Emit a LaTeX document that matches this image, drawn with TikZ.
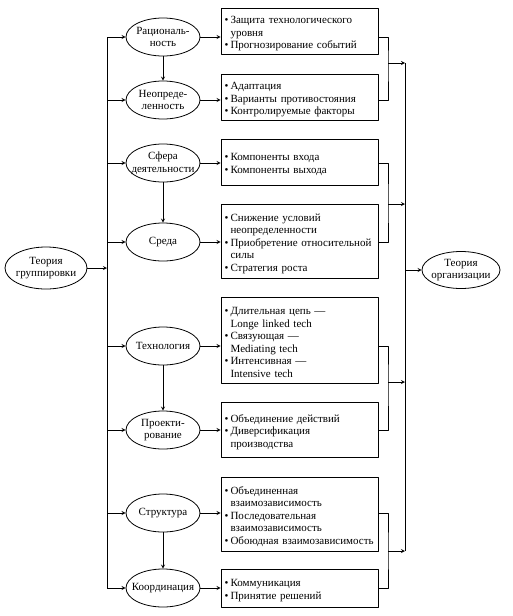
\documentclass[tikz,border=0pt]{standalone}
\usepackage{fontspec}
\setmainfont{Liberation Serif}
\usetikzlibrary{shapes.geometric}
\newcommand\itm{\par\hangindent=0.55em\hangafter=1\noindent\makebox[0.55em][l]{\textbullet}}

\begin{document}
\begin{tikzpicture}[>=stealth,x=1pt,y=-1pt,line width=0.8pt,line join=round,
		font=\fontsize{11}{12.5}\selectfont]
	\tikzset{oval/.style={draw,ellipse,minimum width=74pt,minimum height=38pt,
			inner xsep=-9pt,inner ysep=-4pt,align=center},
		lst/.style={draw,rectangle,text width=150pt,inner xsep=3.5pt,inner ysep=0pt,align=left}}
	\useasboundingbox (0,0) rectangle (512,616);
	
	% --- Theories ---
	\node[oval,minimum width=82pt,minimum height=42pt,inner xsep=-13pt] (grp) at (46,268) {Теория\\группировки};
	\node[oval,minimum width=78pt,minimum height=37pt,inner xsep=-13pt] (org) at (461,270) {Теория\\организации};
	
	% --- Factors ---
	\node[oval] (rat) at (163,37) {Рациональ-\\ность};
	\node[oval] (neo) at (163,100) {Неопреде-\\ленность};
	\node[oval] (sfe) at (163,163) {Сфера\\деятельности};
	\node[oval] (sre) at (163,242) {Среда};
	\node[oval] (tec) at (163,346) {Технология};
	\node[oval] (pro) at (163,430) {Проекти-\\рование};
	\node[oval] (str) at (163,513) {Структура};
	\node[oval] (koo) at (163,588) {Координация};
	
	% --- Lists ---
	\node[lst,minimum height=46pt] (b1) at (299.5,31) {\itm Защита технологического\newline уровня\itm Прогнозирование событий\par};
	\node[lst,minimum height=46pt] (b2) at (299.5,97) {\itm Адаптация\itm Варианты противостояния\itm Контролируемые факторы\par};
	\node[lst,minimum height=46pt] (b3) at (299.5,162) {\itm Компоненты входа\itm Компоненты выхода\par};
	\node[lst,minimum height=74pt] (b4) at (299.5,241) {\itm Снижение условий\newline неопределенности\itm Приобретение относительной\newline силы\itm Стратегия роста\par};
	\node[lst,minimum height=86pt] (b5) at (299.5,340) {\itm Длительная цепь —\newline Longe linked tech\itm Связующая —\newline Mediating tech\itm Интенсивная —\newline Intensive tech\par};
	\node[lst,minimum height=55pt] (b6) at (299.5,429.5) {\itm Объединение действий\itm Диверсификация\newline производства\par};
	\node[lst,minimum height=74pt] (b7) at (299.5,514) {\itm Объединенная\newline взаимозависимость\itm Последовательная\newline взаимозависимость\itm Обоюдная взаимозависимость\par};
	\node[lst,minimum height=38pt] (b8) at (299.5,588) {\itm Коммуникация\itm Принятие решений\par};
	
	% --- Left bus ---
	\coordinate (lbus) at (107,0);
	\draw (rat -| lbus) -- (koo -| lbus);
	\draw[->] (grp.east) -- (grp.east -| lbus);
	\foreach \n in {rat,neo,sfe,sre,tec,pro,str,koo}
		\draw[->] (\n -| lbus) -- (\n.west);
	
	% --- Factor to list ---
	\foreach \n/\b in {rat/b1,neo/b2,sfe/b3,sre/b4,tec/b5,pro/b6,str/b7,koo/b8}
		\draw[->] (\n.east) -- (\n.east -| \b.west);
	\draw[->] (rat) -- (neo);
	\draw[->] (sfe) -- (sre);
	\draw[->] (tec) -- (pro);
	\draw[->] (str) -- (koo);
	
	% --- Right bus ---
	\coordinate (rbus) at (405,0);
	\coordinate (j1) at (388,63);
	\coordinate (j2) at (388,204);
	\coordinate (j3) at (388,382);
	\coordinate (j4) at (388,551);
	\draw (rat -| b1.east) -| (j1) |- (neo -| b2.east);
	\draw (sfe -| b3.east) -| (j2) |- (sre -| b4.east);
	\draw (tec -| b5.east) -| (j3) |- (pro -| b6.east);
	\draw (str -| b7.east) -| (j4) |- (koo -| b8.east);
	\foreach \j in {j1,j2,j3,j4}
		\draw[->] (\j) -- (\j -| rbus);
	\draw (j1 -| rbus) -- (j4 -| rbus);
	\draw[->] (org -| rbus) -- (org.west);
\end{tikzpicture}
\end{document}
